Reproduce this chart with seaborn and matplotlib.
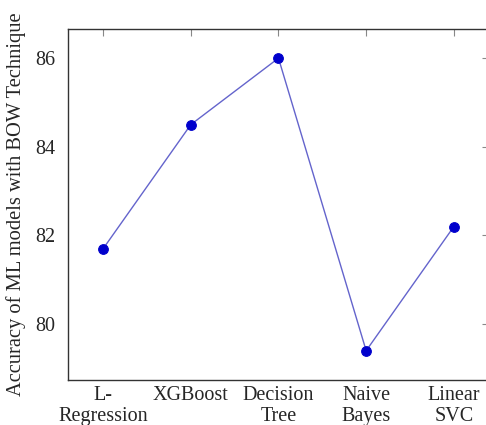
import numpy as np
import pandas as pd
import matplotlib.pyplot as plt
import seaborn as sns

# Data
models = ["L-\nRegression", "XGBoost", "Decision\nTree", "Naive\nBayes", "Linear\nSVC"]
accuracy = [81.7, 84.5, 86.0, 79.4, 82.2]

df = pd.DataFrame({"Model": models, "Accuracy": accuracy})

sns.set_style("white")
plt.rcParams["font.family"] = ["Liberation Serif", "DejaVu Serif"]

fig = plt.figure(figsize=(4.86, 4.25), dpi=100)
ax = fig.add_axes([0.14, 0.106, 0.866, 0.826])

sns.lineplot(data=df, x="Model", y="Accuracy", ax=ax, sort=False,
             color="#6464cc", linewidth=1.0, marker="o", markersize=7,
             markerfacecolor="#0000cc", markeredgecolor="#0000cc")

ax.set_xlim(-0.4, 4.4)
ax.set_ylim(78.74, 86.66)
ax.set_yticks([80, 82, 84, 86])
ax.set_xlabel("")
ax.set_ylabel("Accuracy of ML models with BOW Technique", fontsize=14.8, labelpad=7)

ax.tick_params(axis="both", direction="in", length=5, width=0.8, color="#888888",
               top=True, right=True, labelsize=14.5)
ax.tick_params(axis="y", pad=9)
ax.tick_params(axis="x", pad=4)
for label in ax.get_xticklabels():
    label.set_linespacing(1.15)
for s in ax.spines.values():
    s.set_color("#333333")
    s.set_linewidth(1.0)

fig.savefig("out.png", dpi=100)
